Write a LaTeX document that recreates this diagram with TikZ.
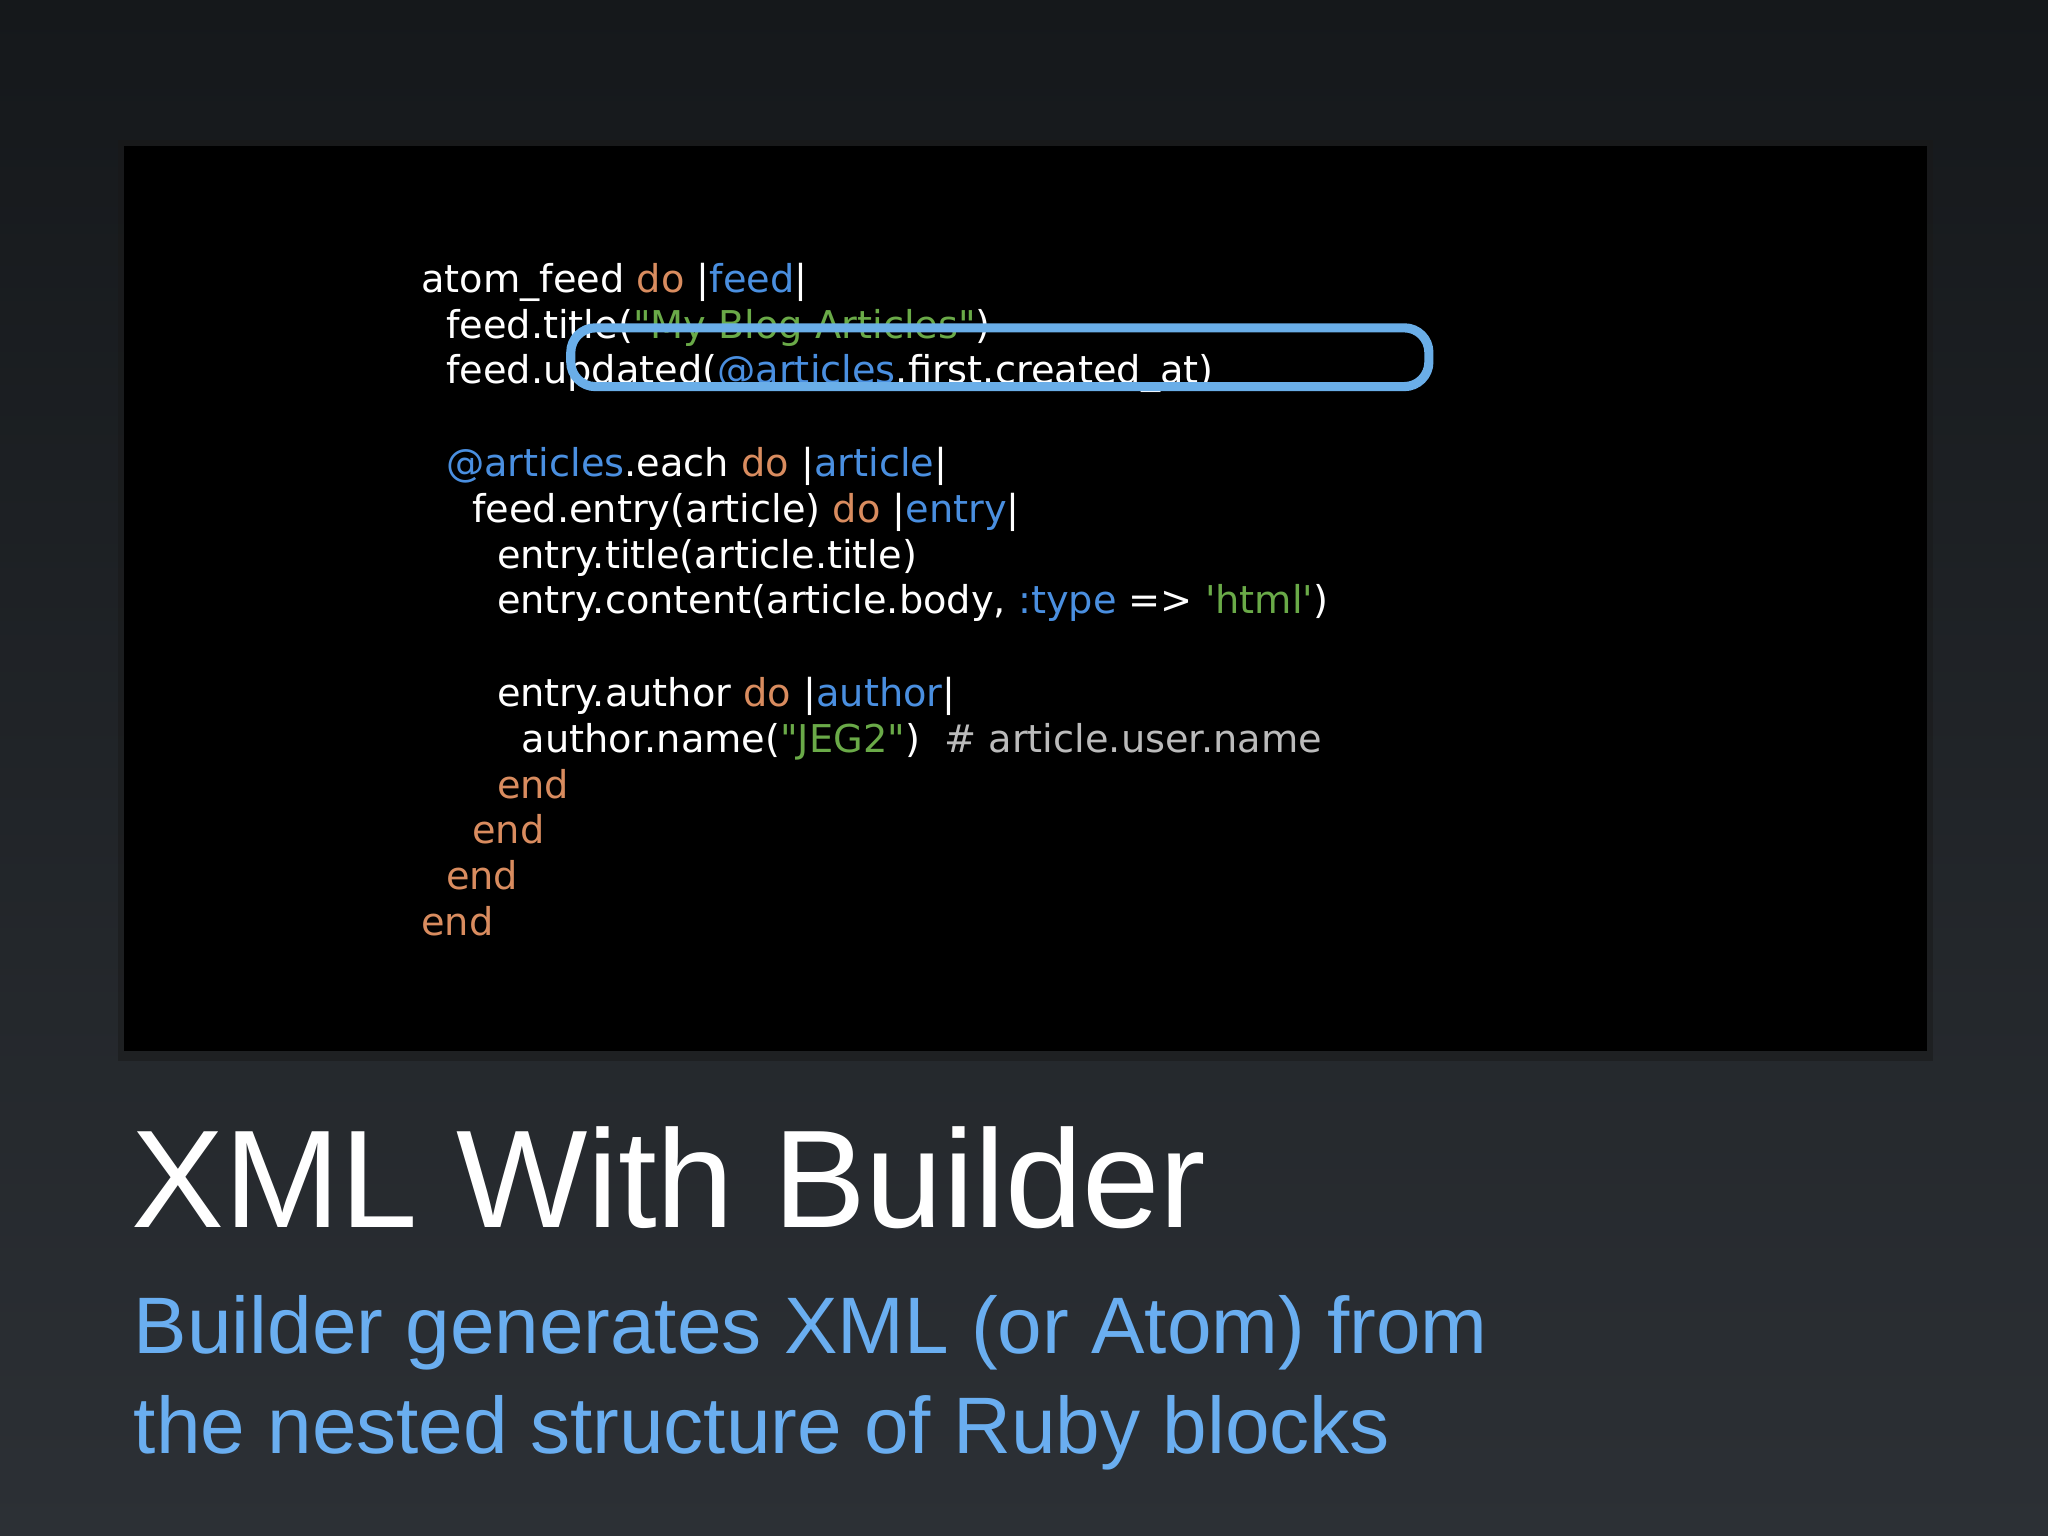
\documentclass[tikz,border=0pt]{standalone}
\usepackage{fontspec}
\setmainfont{Liberation Sans}
\newfontfamily\codefont{DejaVu Sans}[Ligatures=TeXOff]
\newfontfamily\titlefont{Liberation Sans}
\definecolor{bgtop}{HTML}{15181B}
\definecolor{bgbot}{HTML}{2C3035}
\definecolor{kwc}{HTML}{D98C5F}
\definecolor{vrc}{HTML}{4A8FE0}
\definecolor{stc}{HTML}{6AAA48}
\definecolor{cmc}{HTML}{BBBBBB}
\definecolor{sub}{HTML}{6AAEF0}
\definecolor{ring}{HTML}{6AAEE8}
\newcommand{\kw}[1]{\textcolor{kwc}{#1}}
\newcommand{\vr}[1]{\textcolor{vrc}{#1}}
\newcommand{\st}[1]{\textcolor{stc}{#1}}
\begin{document}
\begin{tikzpicture}[x=0.013061cm,y=-0.013061cm,
  code/.style={anchor=base west,inner sep=0,text=white,font=\codefont\fontsize{10.9}{12}\selectfont},
  ttl/.style={anchor=base west,inner sep=0,text=white,font=\titlefont\fontsize{39.6}{48}\selectfont},
  subt/.style={anchor=base west,inner sep=0,text=sub,font=\titlefont\fontsize{22.8}{26}\selectfont}]
\useasboundingbox (0,0) rectangle (1568,1176);
\shade[top color=bgtop,bottom color=bgbot] (0,0) rectangle (1568,1176);
\fill[black!80!gray,opacity=0.5] (90,107) rectangle (1480,812);
\fill[black] (95,112) rectangle (1475,805);
\node[code] (l1) at (322,224) {atom\_feed \kw{do} |\vr{feed}|};
\node[code] (l2) at (341,259) {feed.title(\st{"My Blog Articles"})};
\node[code] (l3) at (341,294) {feed.updated(\vr{@articles}.first.created\_at)};
\node[code] (l4) at (341,365) {\vr{@articles}.each \kw{do} |\vr{article}|};
\node[code] (l5) at (361,400) {feed.entry(article) \kw{do} |\vr{entry}|};
\node[code] (l6) at (380,435) {entry.title(article.title)};
\node[code] (l7) at (380,470) {entry.content(article.body, \vr{:type} => \st{'html'})};
\node[code] (l8) at (380,541) {entry.author \kw{do} |\vr{author}|};
\node[code] (l9) at (399,576) {author.name(\st{"JEG2"})\ \ \textcolor{cmc}{\# article.user.name}};
\node[code] (l10) at (380,611) {\kw{end}};
\node[code] (l11) at (361,646) {\kw{end}};
\node[code] (l12) at (341,681) {\kw{end}};
\node[code] (l13) at (322,716) {\kw{end}};
\draw[ring,line width=2.6pt,rounded corners=7pt] (437,251) rectangle (1094,296);
\node[ttl] (title) at (100,940) {XML With Builder};
\node[subt] (s1) at (102,1036) {Builder generates XML (or Atom) from};
\node[subt] (s2) at (102,1113) {the nested structure of Ruby blocks};
\end{tikzpicture}
\end{document}
